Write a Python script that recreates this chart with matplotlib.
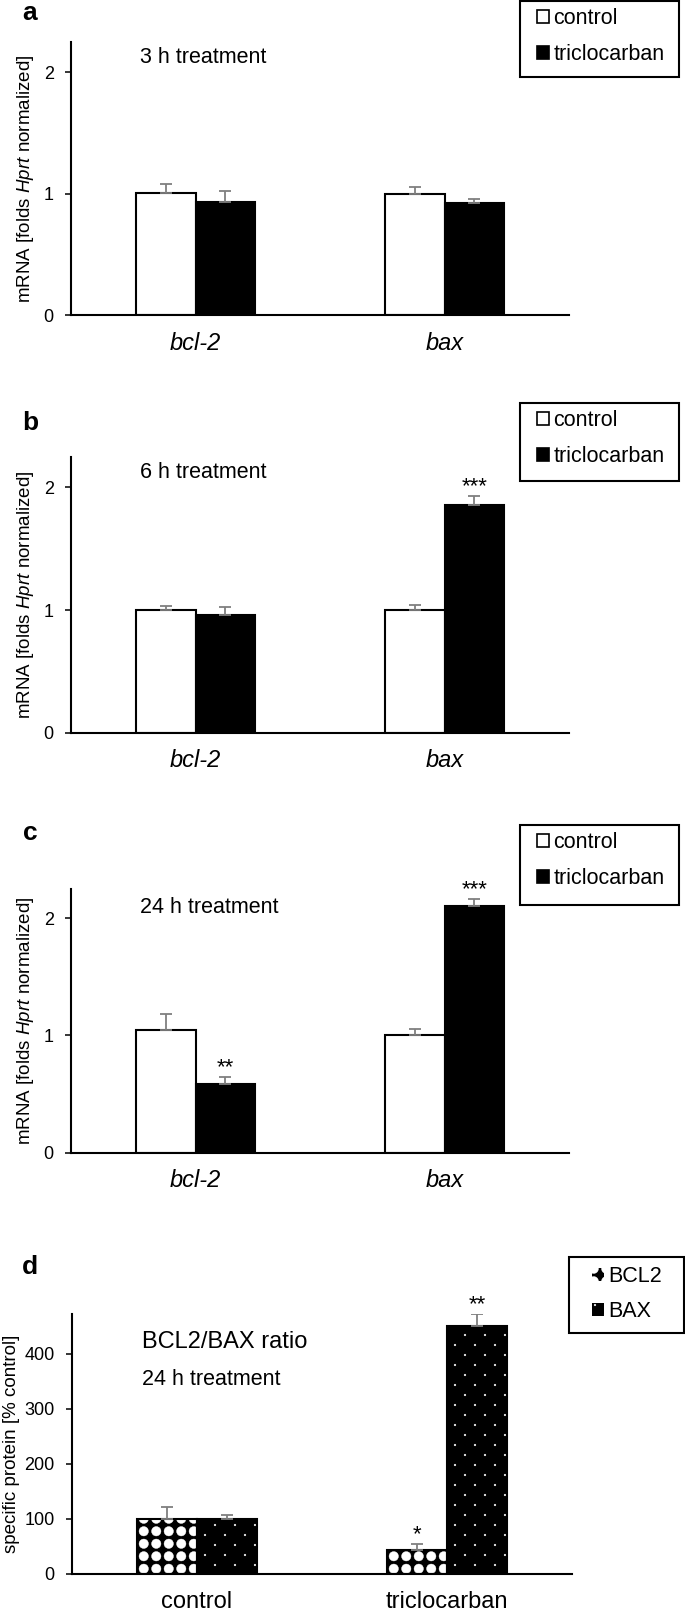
import numpy as np
import matplotlib
matplotlib.use("Agg")
import matplotlib.pyplot as plt
import matplotlib.hatch as mhatch
from matplotlib.path import Path
from matplotlib.patches import Patch, Rectangle

# ---------------- data ----------------
genes = ["bcl-2", "bax"]
mrna_series = ["control", "triclocarban"]
time_labels = ["3 h treatment", "6 h treatment", "24 h treatment"]

ctrl_3h = [1.003, 1.000]
ctrl_3h_err = [0.073, 0.057]
tcc_3h = [0.932, 0.926]
tcc_3h_err = [0.090, 0.030]
sig_ctrl_3h = ["", ""]
sig_tcc_3h = ["", ""]

ctrl_6h = [1.000, 1.000]
ctrl_6h_err = [0.030, 0.040]
tcc_6h = [0.962, 1.859]
tcc_6h_err = [0.062, 0.068]
sig_ctrl_6h = ["", ""]
sig_tcc_6h = ["", "***"]

ctrl_24h = [1.047, 1.004]
ctrl_24h_err = [0.133, 0.049]
tcc_24h = [0.583, 2.105]
tcc_24h_err = [0.063, 0.057]
sig_ctrl_24h = ["", ""]
sig_tcc_24h = ["**", "***"]

mrna_ticks = [0, 1, 2]

protein_groups = ["control", "triclocarban"]
proteins = ["BCL2", "BAX"]
bcl2 = [100, 43]
bcl2_err = [21, 11.5]
bax = [100, 451]
bax_err = [7, 21]
sig_bcl2 = ["", "*"]
sig_bax = ["", "**"]
protein_ticks = [0, 100, 200, 300, 400]
protein_title = "BCL2/BAX ratio"
protein_time = "24 h treatment"

# ---------------- custom fill patterns ----------------
class _FilledGrid(mhatch.HatchPatternBase):
    char = "*"
    nx = 8
    ny = 8
    x0 = 0.5
    stagger = False
    radius = 0.047

    def __init__(self, hatch, density):
        self.centers = []
        if hatch is not None and self.char in hatch:
            for j in range(self.ny):
                y = (j + 0.5) / self.ny
                shift = 0.5 if (self.stagger and j % 2) else 0.0
                for i in range(self.nx):
                    self.centers.append(((i + self.x0 + shift) / self.nx, y))
        self.circle = Path.unit_circle()
        self.num_vertices = len(self.centers) * len(self.circle.vertices)

    def set_vertices_and_codes(self, vertices, codes):
        n = len(self.circle.vertices)
        for k, (cx, cy) in enumerate(self.centers):
            vertices[k * n:(k + 1) * n] = self.circle.vertices * self.radius + (cx, cy)
            codes[k * n:(k + 1) * n] = self.circle.codes


class _DotGrid(_FilledGrid):
    char = "."
    nx = 5
    ny = 10
    x0 = 0.25
    stagger = True
    radius = 0.009


mhatch._hatch_types = [t for t in mhatch._hatch_types
                       if t not in (mhatch.SmallFilledCircles, mhatch.Stars)] + [_FilledGrid, _DotGrid]

# ---------------- style ----------------
plt.rcParams["font.family"] = ["Liberation Sans", "DejaVu Sans"]
plt.rcParams["mathtext.fontset"] = "custom"
plt.rcParams["mathtext.rm"] = "Liberation Sans"
plt.rcParams["mathtext.it"] = "Liberation Sans:italic"
plt.rcParams["hatch.linewidth"] = 0.3

W, H = 685, 1611
fig = plt.figure(figsize=(W / 100, H / 100), dpi=100)


def px_axes(left, top, right, bottom):
    return fig.add_axes([left / W, 1 - bottom / H, (right - left) / W, (bottom - top) / H])


TXT = 15.5
TICK = 13
CAT = 17
STAR = 16
ERRC = "#7f7f7f"
w = 0.24


def style_axes(ax, yticks, ylim, cats, italic, ylabel, label_x):
    for s in ("top", "right"):
        ax.spines[s].set_visible(False)
    for s in ("left", "bottom"):
        ax.spines[s].set_linewidth(1.5)
    ax.set_xlim(-0.5, 1.5)
    ax.set_ylim(*ylim)
    ax.set_yticks(yticks)
    ax.set_xticks(np.arange(len(cats)))
    ax.set_xticklabels(cats, fontsize=CAT, fontstyle="italic" if italic else "normal")
    ax.tick_params(axis="x", length=0, pad=12)
    ax.tick_params(axis="y", direction="out", length=4.5, width=1.1, pad=8, labelsize=TICK)
    ax.set_ylabel(ylabel, fontsize=13.5)
    ax.yaxis.set_label_coords(label_x, 0.5)


def add_stars(ax, xs, tops, errs, sigs):
    for xi, t, e, s in zip(xs, tops, errs, sigs):
        if s:
            ax.annotate(s, (xi, t + e), xytext=(0, 3), textcoords="offset points",
                        ha="center", va="baseline", fontsize=STAR, annotation_clip=False)


def add_legend(ax, handles, labels, hx, ty, box, spacing):
    leg = ax.legend(handles, labels, loc="upper left", bbox_to_anchor=(hx / W, 1 - ty / H),
                    bbox_transform=fig.transFigure, frameon=False, borderpad=0, borderaxespad=0,
                    fontsize=TXT, handlelength=0.56, handleheight=0.56, handletextpad=0.2,
                    labelspacing=spacing)
    x0, y0, x1, y1 = box
    fig.add_artist(Rectangle((x0 / W, 1 - y1 / H), (x1 - x0) / W, (y1 - y0) / H,
                             transform=fig.transFigure, fill=False, ec="black", lw=1.5))
    return leg


panels = [
    ("a", (71, 41.7, 569, 315.0), 13, ctrl_3h, ctrl_3h_err, tcc_3h, tcc_3h_err, sig_ctrl_3h, sig_tcc_3h,
     time_labels[0], 2.12, (520, 1, 679, 77)),
    ("b", (71, 456.7, 569, 732.7), 423, ctrl_6h, ctrl_6h_err, tcc_6h, tcc_6h_err, sig_ctrl_6h, sig_tcc_6h,
     time_labels[1], 2.12, (520, 403, 679, 481)),
    ("c", (71, 888.7, 569, 1152.7), 833, ctrl_24h, ctrl_24h_err, tcc_24h, tcc_24h_err, sig_ctrl_24h,
     sig_tcc_24h, time_labels[2], 2.09, (520, 825, 679, 905)),
]

x = np.arange(len(genes))
for letter, rect, ly, c, ce, t, te, sc, st, tlabel, ty_val, box in panels:
    ax = px_axes(*rect)
    ax.bar(x - w / 2, c, w, facecolor="white", edgecolor="black", linewidth=1.5, zorder=2)
    ax.bar(x + w / 2, t, w, facecolor="black", edgecolor="black", linewidth=1.5, zorder=2)
    ax.errorbar(x - w / 2, c, yerr=[np.zeros(len(c)), ce], fmt="none", ecolor=ERRC,
                elinewidth=1.3, capsize=4, capthick=1.3, zorder=3)
    ax.errorbar(x + w / 2, t, yerr=[np.zeros(len(t)), te], fmt="none", ecolor=ERRC,
                elinewidth=1.3, capsize=4, capthick=1.3, zorder=3)
    add_stars(ax, x - w / 2, c, ce, sc)
    add_stars(ax, x + w / 2, t, te, st)
    style_axes(ax, mrna_ticks, (0, 2.25), genes, True,
               r"mRNA [folds $\mathit{Hprt}$ normalized]", -0.07)
    ax.text(0.138, ty_val, tlabel, transform=ax.get_yaxis_transform(), fontsize=TXT,
            ha="left", va="center")
    fig.text(30 / W, 1 - ly / H, letter, ha="center", va="center", fontsize=19, fontweight="bold")
    handles = [Patch(facecolor="white", edgecolor="black", linewidth=1.2),
               Patch(facecolor="black", edgecolor="black", linewidth=1.2)]
    add_legend(ax, handles, mrna_series, 537, box[1] + 7, box, 0.70)

# ---------------- panel d ----------------
axd = px_axes(72, 1314.3, 572, 1574)
xp = np.arange(len(protein_groups))
axd.bar(xp - w / 2, bcl2, w, facecolor="black", edgecolor="white", hatch="*", linewidth=0, zorder=2)
axd.bar(xp - w / 2, bcl2, w, fill=False, edgecolor="black", linewidth=1.5, zorder=2.1)
axd.bar(xp + w / 2, bax, w, facecolor="black", edgecolor="white", hatch=".", linewidth=0, zorder=2)
axd.bar(xp + w / 2, bax, w, fill=False, edgecolor="black", linewidth=1.5, zorder=2.1)
axd.errorbar(xp - w / 2, bcl2, yerr=[np.zeros(len(bcl2)), bcl2_err], fmt="none", ecolor=ERRC,
             elinewidth=1.3, capsize=4, capthick=1.3, zorder=3)
axd.errorbar(xp + w / 2, bax, yerr=[np.zeros(len(bax)), bax_err], fmt="none", ecolor=ERRC,
             elinewidth=1.3, capsize=4, capthick=1.3, zorder=3)
add_stars(axd, xp - w / 2, bcl2, bcl2_err, sig_bcl2)
add_stars(axd, xp + w / 2, bax, bax_err, sig_bax)
style_axes(axd, protein_ticks, (0, 472), protein_groups, False,
           "specific protein [% control]", -0.104)
axd.text(0.14, 422, protein_title, transform=axd.get_yaxis_transform(), fontsize=17,
         ha="left", va="center")
axd.text(0.14, 353, protein_time, transform=axd.get_yaxis_transform(), fontsize=TXT,
         ha="left", va="center")
fig.text(30 / W, 1 - 1267 / H, "d", ha="center", va="center", fontsize=19, fontweight="bold")
handles_d = [Patch(facecolor="black", edgecolor="white", hatch="*", linewidth=0),
             Patch(facecolor="black", edgecolor="white", hatch=".", linewidth=0)]
add_legend(axd, handles_d, proteins, 592, 1266, (569, 1257, 684, 1333), 0.64)

fig.savefig("out.png", dpi=100)
